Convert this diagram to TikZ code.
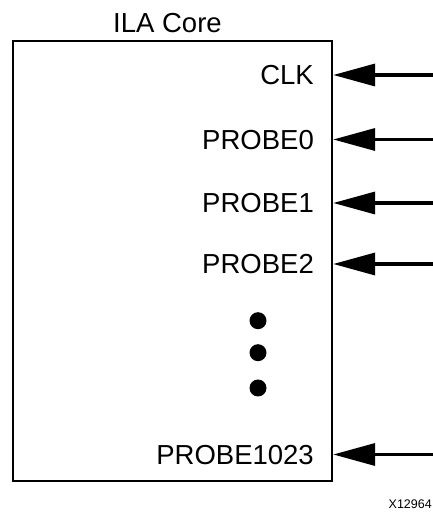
\documentclass[tikz,border=0pt]{standalone}
\usepackage{fontspec}
\setmainfont{Liberation Sans}
\usetikzlibrary{arrows.meta}
\begin{document}
\begin{tikzpicture}[x=1pt,y=1pt,
  port/.style={anchor=base east, inner sep=0pt, font=\fontsize{27.5}{33}\selectfont},
  sig/.style={line width=3.5pt, -{Triangle[length=42pt,width=22pt]}},
  dotm/.style={circle, fill=black, inner sep=0pt, minimum size=17pt}]
\useasboundingbox (0,0) rectangle (433,512);
\node[draw, line width=2.2pt, minimum width=319pt, minimum height=440pt, inner sep=0pt, anchor=south west] (core) at (12,29.5) {};
\node[anchor=base, inner sep=0pt, font=\fontsize{27.5}{33}\selectfont] (title) at (167.5,479) {ILA Core};
% labels
\node[port] (lclk) at (314,427) {CLK};
\node[port] (lp0) at (314,362.5) {PROBE0};
\node[port] (lp1) at (314,299) {PROBE1};
\node[port] (lp2) at (314,238) {PROBE2};
\node[port] (lp1023) at (314,47.5) {PROBE1023};
% free ends
\coordinate (iclk) at (433,437);
\coordinate (ip0) at (433,372.5);
\coordinate (ip1) at (433,309);
\coordinate (ip2) at (433,248);
\coordinate (ip1023) at (433,57.5);
\foreach \c in {iclk,ip0,ip1,ip2,ip1023}
  \draw[sig] (\c) -- (core.east |- \c);
% dots
\node[dotm] (d1) at (258,191.3) {};
\node[dotm] (d2) at (258,159.3) {};
\node[dotm] (d3) at (258,124) {};
\node[anchor=base east, inner sep=0pt, font=\fontsize{12.5}{15}\selectfont] (code) at (432,3) {X12964};
\end{tikzpicture}
\end{document}
